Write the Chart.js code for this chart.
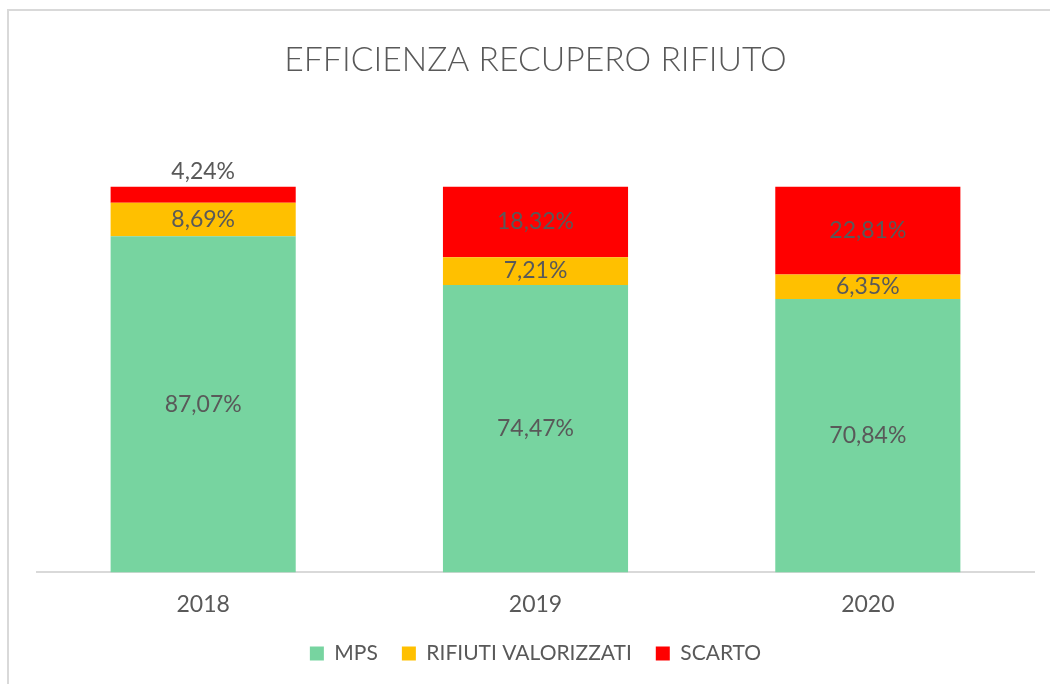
<!DOCTYPE html>
<html>
<head>
<meta charset="utf-8">
<script src="https://cdn.jsdelivr.net/npm/chart.js@4.4.1/dist/chart.umd.min.js"></script>
<style>
  html, body { margin: 0; padding: 0; background: #fff; }
  #wrap { position: relative; width: 1050px; height: 684px; overflow: hidden; }
  #cornice {
    position: absolute; left: 7px; top: 9px; width: 1100px; height: 700px;
    border-top: 2px solid #d9d9d9; border-left: 2px solid #d9d9d9;
  }
  #grafico { position: absolute; left: 0; top: 0; }
</style>
</head>
<body>
<div id="wrap">
  <div id="cornice"></div>
  <canvas id="grafico" width="1050" height="684"></canvas>
</div>
<script>
// dati
const anni = ['2018', '2019', '2020'];
const mps = [87.07, 74.47, 70.84];
const rifiutiValorizzati = [8.69, 7.21, 6.35];
const scarto = [4.24, 18.32, 22.81];

const GRIGIO_TESTO = '#595959';
const FONT = 'Lato, "Open Sans", sans-serif';

// etichette dei valori dentro le barre (come in Excel)
const etichetteValori = {
  id: 'etichetteValori',
  afterDatasetsDraw(chart) {
    const ctx = chart.ctx;
    ctx.save();
    ctx.font = '23px ' + FONT;
    ctx.fillStyle = GRIGIO_TESTO;
    ctx.textAlign = 'center';
    ctx.textBaseline = 'middle';
    chart.data.datasets.forEach((ds, i) => {
      const meta = chart.getDatasetMeta(i);
      meta.data.forEach((bar, j) => {
        const testo = ds.data[j].toFixed(2).replace('.', ',') + '%';
        const alto = Math.abs(bar.base - bar.y);
        let y = (bar.y + bar.base) / 2;
        // segmento troppo piccolo: scrivo sopra la barra
        if (alto < 20) y = bar.y - 15;
        ctx.fillText(testo, bar.x, y);
      });
    });
    ctx.restore();
  }
};

new Chart(document.getElementById('grafico'), {
  type: 'bar',
  data: {
    labels: anni,
    datasets: [
      { label: 'MPS', data: mps, backgroundColor: '#77d4a0' },
      { label: 'RIFIUTI VALORIZZATI', data: rifiutiValorizzati, backgroundColor: '#ffc000' },
      { label: 'SCARTO', data: scarto, backgroundColor: '#ff0000' },
    ],
  },
  options: {
    responsive: false,
    animation: false,
    layout: { padding: { left: 37, right: 16, top: 0, bottom: 10 } },
    datasets: {
      bar: { categoryPercentage: 1, barPercentage: 0.557, borderWidth: 0 },
    },
    scales: {
      x: {
        stacked: true,
        grid: { display: false, drawTicks: false },
        border: { display: true, color: '#d9d9d9', width: 2 },
        ticks: { color: GRIGIO_TESTO, font: { family: FONT, size: 23 }, padding: 18 },
        // avvicino la legenda alle etichette degli anni
        afterFit(scale) { scale.height -= 17; },
      },
      y: { stacked: true, display: false, min: 0, max: 100 },
    },
    plugins: {
      title: {
        display: true,
        text: 'EFFICIENZA RECUPERO RIFIUTO',
        color: GRIGIO_TESTO,
        font: { family: FONT, size: 33.7, weight: '300' },
        padding: { top: 40, bottom: 106 },
      },
      legend: {
        position: 'bottom',
        labels: {
          color: GRIGIO_TESTO,
          font: { family: FONT, size: 21 },
          boxWidth: 14,
          boxHeight: 14,
          padding: 24,
        },
      },
      tooltip: { enabled: false },
    },
  },
  plugins: [etichetteValori],
});
</script>
</body>
</html>
